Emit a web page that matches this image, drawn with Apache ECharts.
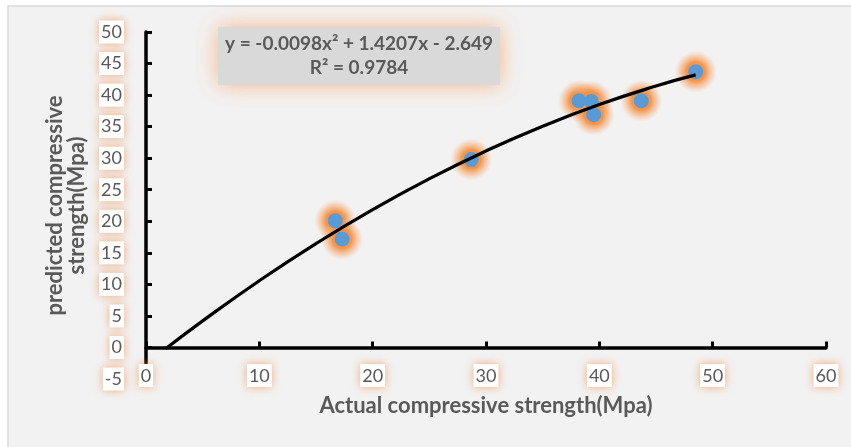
<!DOCTYPE html>
<html>
<head>
<meta charset="utf-8">
<script src="https://cdn.jsdelivr.net/npm/echarts@6/dist/echarts.min.js"></script>
<style>
html,body{margin:0;padding:0;background:#fff;}
#c{width:851px;height:447px;}
</style>
</head>
<body>
<div id="c"></div>
<script>
// Observed points (actual, predicted)
const actualX = [16.7, 17.3, 28.7, 38.2, 39.3, 39.5, 43.7, 48.5];
const predictedY = [20.1, 17.2, 29.8, 39.1, 39.0, 36.9, 39.1, 43.7];
// Trendline points (y = -0.0098x² + 1.4207x - 2.649)
const trendX = [1.7, 5, 10, 15, 20, 25, 30, 35, 40, 45, 48.5];
const trendY = [-0.26, 4.21, 10.58, 16.46, 21.85, 26.74, 31.15, 35.07, 38.50, 41.44, 43.20];
// Axis ticks
const xTicks = [0, 10, 20, 30, 40, 50, 60];
const yTicks = [-5, 0, 5, 10, 15, 20, 25, 30, 35, 40, 45, 50];
const eqLine1 = 'y = -0.0098x² + 1.4207x - 2.649';
const eqLine2 = 'R² = 0.9784';

const FONT = 'Lato, "Open Sans", sans-serif';
const chart = echarts.init(document.getElementById('c'), null, {renderer: 'canvas'});

const labelBox = {
  color: '#595959',
  fontFamily: FONT,
  fontSize: 18,
  backgroundColor: '#ffffff',
  padding: [3, 2, 2, 2],
  shadowBlur: 8,
  shadowColor: 'rgba(240,140,70,0.7)'
};

const points = actualX.map((x, i) => [x, predictedY[i]]);

const glowFill = new echarts.graphic.RadialGradient(0.5, 0.5, 0.5, [
  {offset: 0, color: 'rgba(245,140,55,1)'},
  {offset: 0.45, color: 'rgba(245,145,65,0.95)'},
  {offset: 0.75, color: 'rgba(246,165,105,0.45)'},
  {offset: 1, color: 'rgba(246,180,140,0)'}
]);

chart.setOption({
  backgroundColor: '#ffffff',
  animation: false,
  graphic: [
    {
      type: 'rect', z: -10, silent: true,
      shape: {x: 8, y: 6, width: 870, height: 470},
      style: {fill: '#F2F2F2', stroke: '#D9D9D9', lineWidth: 1.5}
    },
    {
      type: 'rect', z: 10, silent: true,
      shape: {x: 218, y: 27, width: 282, height: 58},
      style: {fill: '#D9D9D9', shadowBlur: 22, shadowColor: 'rgba(248,170,115,0.85)'}
    },
    {
      type: 'text', z: 11, silent: true,
      x: 359, y: 44,
      style: {text: eqLine1, fill: '#595959', font: 'bold 19px ' + FONT, align: 'center', verticalAlign: 'middle'}
    },
    {
      type: 'text', z: 11, silent: true,
      x: 359, y: 68,
      style: {text: eqLine2, fill: '#595959', font: 'bold 19px ' + FONT, align: 'center', verticalAlign: 'middle'}
    }
  ],
  grid: {left: 146, right: 25, top: 32, bottom: 68, containLabel: false, outerBoundsMode: 'none'},
  xAxis: {
    type: 'value', min: xTicks[0], max: xTicks[xTicks.length - 1], interval: 10,
    name: 'Actual compressive strength(Mpa)',
    nameLocation: 'middle', nameGap: 16,
    nameTextStyle: {color: '#595959', fontFamily: FONT, fontSize: 22, fontWeight: 'bold'},
    axisLine: {onZero: true, lineStyle: {color: '#000', width: 3.5}},
    axisTick: {show: true, inside: true, length: 6, lineStyle: {color: '#000', width: 3}},
    axisLabel: Object.assign({margin: -15}, labelBox),
    splitLine: {show: false}
  },
  yAxis: {
    type: 'value', min: yTicks[0], max: yTicks[yTicks.length - 1], interval: 5,
    name: 'predicted compressive\nstrength(Mpa)',
    nameLocation: 'middle', nameGap: 54, nameRotate: 90,
    nameTextStyle: {color: '#595959', fontFamily: FONT, fontSize: 22, fontWeight: 'bold', lineHeight: 22},
    axisLine: {onZero: false, lineStyle: {color: '#000', width: 3.5}},
    axisTick: {show: true, inside: true, length: 6, lineStyle: {color: '#000', width: 3}},
    axisLabel: Object.assign({margin: 22}, labelBox),
    splitLine: {show: false}
  },
  series: [
    {
      // soft orange glow behind each marker
      type: 'scatter', silent: true,
      data: points,
      symbol: 'circle', symbolSize: 42,
      itemStyle: {color: glowFill, opacity: 1},
      z: 2
    },
    {
      type: 'scatter',
      data: points,
      symbol: 'circle', symbolSize: 15,
      itemStyle: {color: '#5B9BD5', opacity: 1},
      z: 3
    },
    {
      type: 'line',
      data: trendX.map((x, i) => [x, trendY[i]]),
      smooth: true, showSymbol: false, symbol: 'none',
      lineStyle: {color: '#000', width: 3.2},
      z: 4
    }
  ]
});
</script>
</body>
</html>
